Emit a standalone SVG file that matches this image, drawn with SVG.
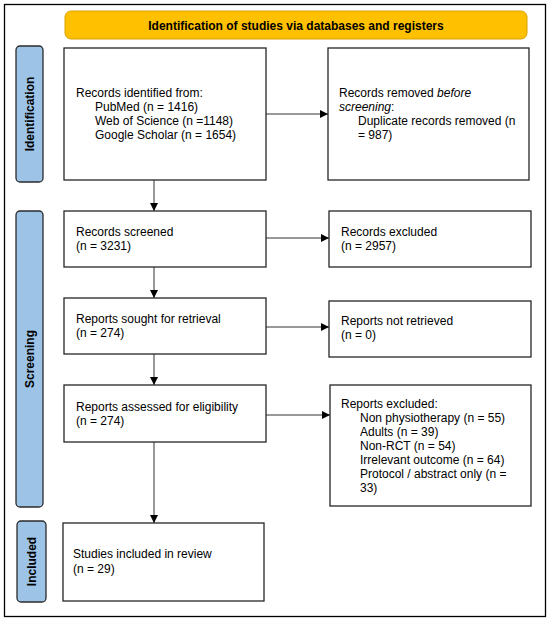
<svg xmlns="http://www.w3.org/2000/svg" width="550" height="621" viewBox="0 0 550 621">
<defs>
<style>
.box{fill:#fff;stroke:#262626;stroke-width:1.3}
.side{fill:#9DC3E6;stroke:#2b2b2b;stroke-width:1.3}
.t{font-family:"Liberation Sans",Arial,sans-serif;font-size:12px;fill:#000}
.b{font-family:"Liberation Sans",Arial,sans-serif;font-size:12px;font-weight:bold;fill:#000}
.c{stroke:#333;stroke-width:1;fill:none;marker-end:url(#ah)}
</style>
<marker id="ah" viewBox="0 0 10 10" refX="10" refY="5" markerWidth="8" markerHeight="8" markerUnits="userSpaceOnUse" orient="auto">
<path d="M0,0 L10,5 L0,10 z" fill="#000"/>
</marker>
</defs>
<rect x="4.5" y="4.5" width="541" height="612" fill="#fff" stroke="#000" stroke-width="1.3"/>
<g id="header">
<rect x="65" y="11" width="462" height="28" rx="6" fill="#FFC000" stroke="#D9A200" stroke-width="1"/>
<text class="b" x="296" y="29.5" text-anchor="middle">Identification of studies via databases and registers</text>
</g>
<g id="label-identification">
<rect class="side" x="16" y="46" width="27" height="136" rx="4"/>
<text class="b" transform="translate(34,114) rotate(-90)" text-anchor="middle">Identification</text>
</g>
<g id="label-screening">
<rect class="side" x="16" y="211" width="27" height="296" rx="4"/>
<text class="b" transform="translate(34,359) rotate(-90)" text-anchor="middle">Screening</text>
</g>
<g id="label-included">
<rect class="side" x="17" y="521" width="29" height="81" rx="4"/>
<text class="b" transform="translate(35.5,561.5) rotate(-90)" text-anchor="middle">Included</text>
</g>
<g id="connectors">
<line class="c" x1="266" y1="114" x2="328" y2="114"/>
<line class="c" x1="154" y1="180" x2="154" y2="211"/>
<line class="c" x1="266" y1="238" x2="329" y2="238"/>
<line class="c" x1="154" y1="267" x2="154" y2="298"/>
<line class="c" x1="266" y1="327" x2="329" y2="327"/>
<line class="c" x1="154" y1="354" x2="154" y2="385"/>
<line class="c" x1="266" y1="415" x2="330" y2="415"/>
<line class="c" x1="154" y1="442" x2="154" y2="523"/>
</g>
<g id="records-identified">
<rect class="box" x="64" y="48" width="202" height="132"/>
<text class="t" x="76" y="97">Records identified from:</text>
<text class="t" x="95" y="111">PubMed (n = 1416)</text>
<text class="t" x="95" y="125">Web of Science (n =1148)</text>
<text class="t" x="95" y="139">Google Scholar (n = 1654)</text>
</g>
<g id="records-removed">
<rect class="box" x="328" y="48" width="201" height="132"/>
<text class="t" x="339" y="97">Records removed <tspan font-style="italic">before</tspan></text>
<text class="t" x="339" y="111"><tspan font-style="italic">screening</tspan>:</text>
<text class="t" x="358" y="125">Duplicate records removed (n</text>
<text class="t" x="358" y="139">= 987)</text>
</g>
<g id="records-screened">
<rect class="box" x="64" y="211" width="202" height="56"/>
<text class="t" x="76" y="236">Records screened</text>
<text class="t" x="76" y="250">(n = 3231)</text>
</g>
<g id="records-excluded">
<rect class="box" x="329" y="211" width="202" height="56"/>
<text class="t" x="341" y="236">Records excluded</text>
<text class="t" x="341" y="250">(n = 2957)</text>
</g>
<g id="reports-sought">
<rect class="box" x="64" y="298" width="202" height="56"/>
<text class="t" x="76" y="323">Reports sought for retrieval</text>
<text class="t" x="76" y="337">(n = 274)</text>
</g>
<g id="reports-not-retrieved">
<rect class="box" x="329" y="301" width="202" height="56"/>
<text class="t" x="341" y="325">Reports not retrieved</text>
<text class="t" x="341" y="339">(n = 0)</text>
</g>
<g id="reports-assessed">
<rect class="box" x="64" y="385" width="202" height="57"/>
<text class="t" x="76" y="411">Reports assessed for eligibility</text>
<text class="t" x="76" y="425">(n = 274)</text>
</g>
<g id="reports-excluded">
<rect class="box" x="330" y="385" width="201" height="121"/>
<text class="t" x="341" y="408">Reports excluded:</text>
<text class="t" x="360" y="422">Non physiotherapy (n = 55)</text>
<text class="t" x="360" y="436">Adults (n = 39)</text>
<text class="t" x="360" y="450">Non-RCT (n = 54)</text>
<text class="t" x="360" y="464">Irrelevant outcome (n = 64)</text>
<text class="t" x="360" y="478">Protocol / abstract only (n =</text>
<text class="t" x="360" y="492">33)</text>
</g>
<g id="studies-included">
<rect class="box" x="63" y="523" width="201" height="78"/>
<text class="t" x="73" y="558">Studies included in review</text>
<text class="t" x="73" y="573">(n = 29)</text>
</g>
</svg>
